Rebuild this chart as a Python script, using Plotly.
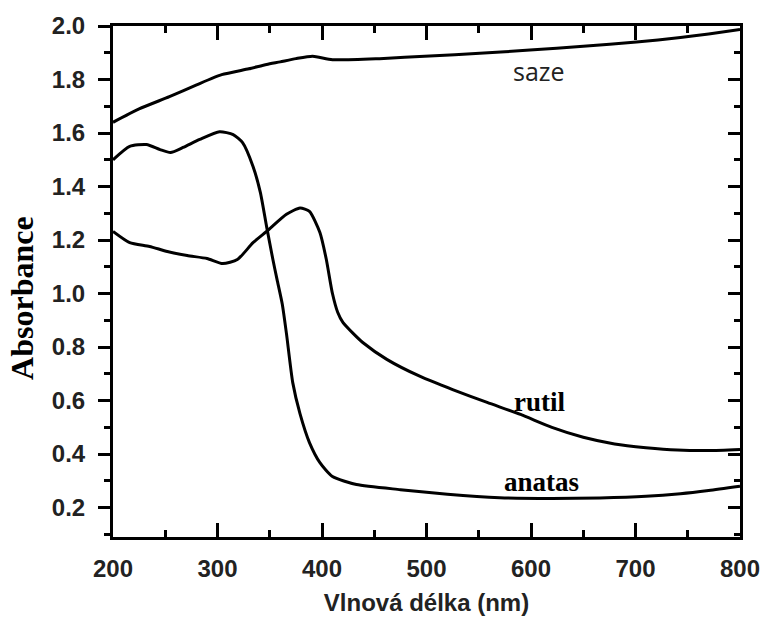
import plotly.graph_objects as go

# Data
saze_x = [200, 225, 254, 280, 304, 330, 347, 360, 375, 391, 410, 455, 503, 551, 599, 650, 701, 743, 770, 800]
saze_y = [1.64, 1.69, 1.736, 1.78, 1.818, 1.84, 1.856, 1.866, 1.878, 1.887, 1.874, 1.878, 1.888, 1.898, 1.91, 1.924, 1.94, 1.957, 1.97, 1.987]

anatas_x = [200, 216, 232, 245, 255, 267, 283, 302, 315, 324, 334, 341, 347, 353, 357, 362, 366, 372, 379, 388, 398, 410, 433, 475, 520, 570, 620, 666, 710, 743, 770, 800]
anatas_y = [1.50, 1.55, 1.557, 1.538, 1.527, 1.546, 1.576, 1.605, 1.594, 1.564, 1.475, 1.378, 1.25, 1.127, 1.052, 0.96, 0.85, 0.667, 0.55, 0.443, 0.368, 0.316, 0.286, 0.267, 0.25, 0.237, 0.234, 0.236, 0.242, 0.252, 0.264, 0.28]

rutil_x = [200, 216, 235, 252, 271, 290, 305, 319, 334, 347, 366, 379, 388, 398, 404, 410, 415, 420, 430, 439, 462, 494, 525, 558, 590, 620, 650, 680, 710, 740, 770, 800]
rutil_y = [1.232, 1.19, 1.176, 1.157, 1.142, 1.131, 1.112, 1.127, 1.19, 1.232, 1.296, 1.32, 1.307, 1.228, 1.13, 1.0, 0.93, 0.892, 0.85, 0.817, 0.754, 0.69, 0.641, 0.593, 0.548, 0.50, 0.463, 0.438, 0.424, 0.415, 0.413, 0.417]

labels = ["saze", "rutil", "anatas"]
label_x = [608, 608, 610]
label_y = [1.83, 0.596, 0.294]

x_range = [200, 800]
y_range = [0.09, 2.0]

fig = go.Figure()
line = dict(color="black", width=3, shape="spline", smoothing=0.6)
fig.add_trace(go.Scatter(x=anatas_x, y=anatas_y, mode="lines", line=line, showlegend=False))
fig.add_trace(go.Scatter(x=rutil_x, y=rutil_y, mode="lines", line=line, showlegend=False))
fig.add_trace(go.Scatter(x=saze_x, y=saze_y, mode="lines", line=line, showlegend=False, yaxis="y2"))

sans = "Liberation Sans, Arial, sans-serif"
serif = "Liberation Serif, Times New Roman, serif"

fig.add_annotation(x=label_x[0], y=label_y[0], text=labels[0], showarrow=False,
                   font=dict(family="Open Sans, sans-serif", size=25, color="#222"))
fig.add_annotation(x=label_x[1], y=label_y[1], text="<b>" + labels[1] + "</b>", showarrow=False,
                   font=dict(family=serif, size=27, color="black"))
fig.add_annotation(x=label_x[2], y=label_y[2], text="<b>" + labels[2] + "</b>", showarrow=False,
                   font=dict(family=serif, size=27, color="black"))
# y-axis title (placed as annotation to match the reference's vertical position)
fig.add_annotation(xref="paper", yref="paper", x=-0.145, y=0.468, text="<b>Absorbance</b>",
                   textangle=-90, showarrow=False, xanchor="center", yanchor="middle",
                   font=dict(family=serif, size=32, color="black"))

fig.update_layout(
    width=765, height=617,
    margin=dict(l=113, r=25, t=26, b=80),
    plot_bgcolor="white", paper_bgcolor="white",
    xaxis=dict(
        range=x_range, dtick=100, tick0=200, automargin=False,
        showline=True, linewidth=3, linecolor="black", mirror="ticks",
        ticks="inside", ticklen=14, tickwidth=3, tickcolor="black",
        minor=dict(dtick=50, tick0=200, ticks="inside", ticklen=7, tickwidth=3, tickcolor="black"),
        showgrid=False, zeroline=False, ticklabelstandoff=8,
        tickfont=dict(family=sans, size=24, color="#222", weight="bold"),
        title=dict(text="Vlnová délka (nm)", font=dict(family=sans, size=24, color="#222", weight="bold"), standoff=14),
    ),
    yaxis=dict(
        range=y_range, dtick=0.2, tick0=0.2, tickformat=".1f", automargin=False,
        showline=True, linewidth=3, linecolor="black", mirror=False,
        ticks="outside", ticklen=12, tickwidth=3, tickcolor="black",
        minor=dict(dtick=0.1, tick0=0.1, ticks="outside", ticklen=6, tickwidth=3, tickcolor="black"),
        showgrid=False, zeroline=False, ticklabelstandoff=8,
        tickfont=dict(family=sans, size=24, color="#222", weight="bold"),
    ),
    yaxis2=dict(
        range=y_range, dtick=0.2, tick0=0.2, overlaying="y", side="right", automargin=False,
        showline=True, linewidth=3, linecolor="black",
        ticks="inside", ticklen=12, tickwidth=3, tickcolor="black",
        minor=dict(dtick=0.1, tick0=0.1, ticks="inside", ticklen=6, tickwidth=3, tickcolor="black"),
        showticklabels=False, showgrid=False, zeroline=False,
    ),
)

fig.write_html("out.html", config={"displayModeBar": False},
               post_script="document.body.style.margin='0';document.body.style.overflow='hidden';")
